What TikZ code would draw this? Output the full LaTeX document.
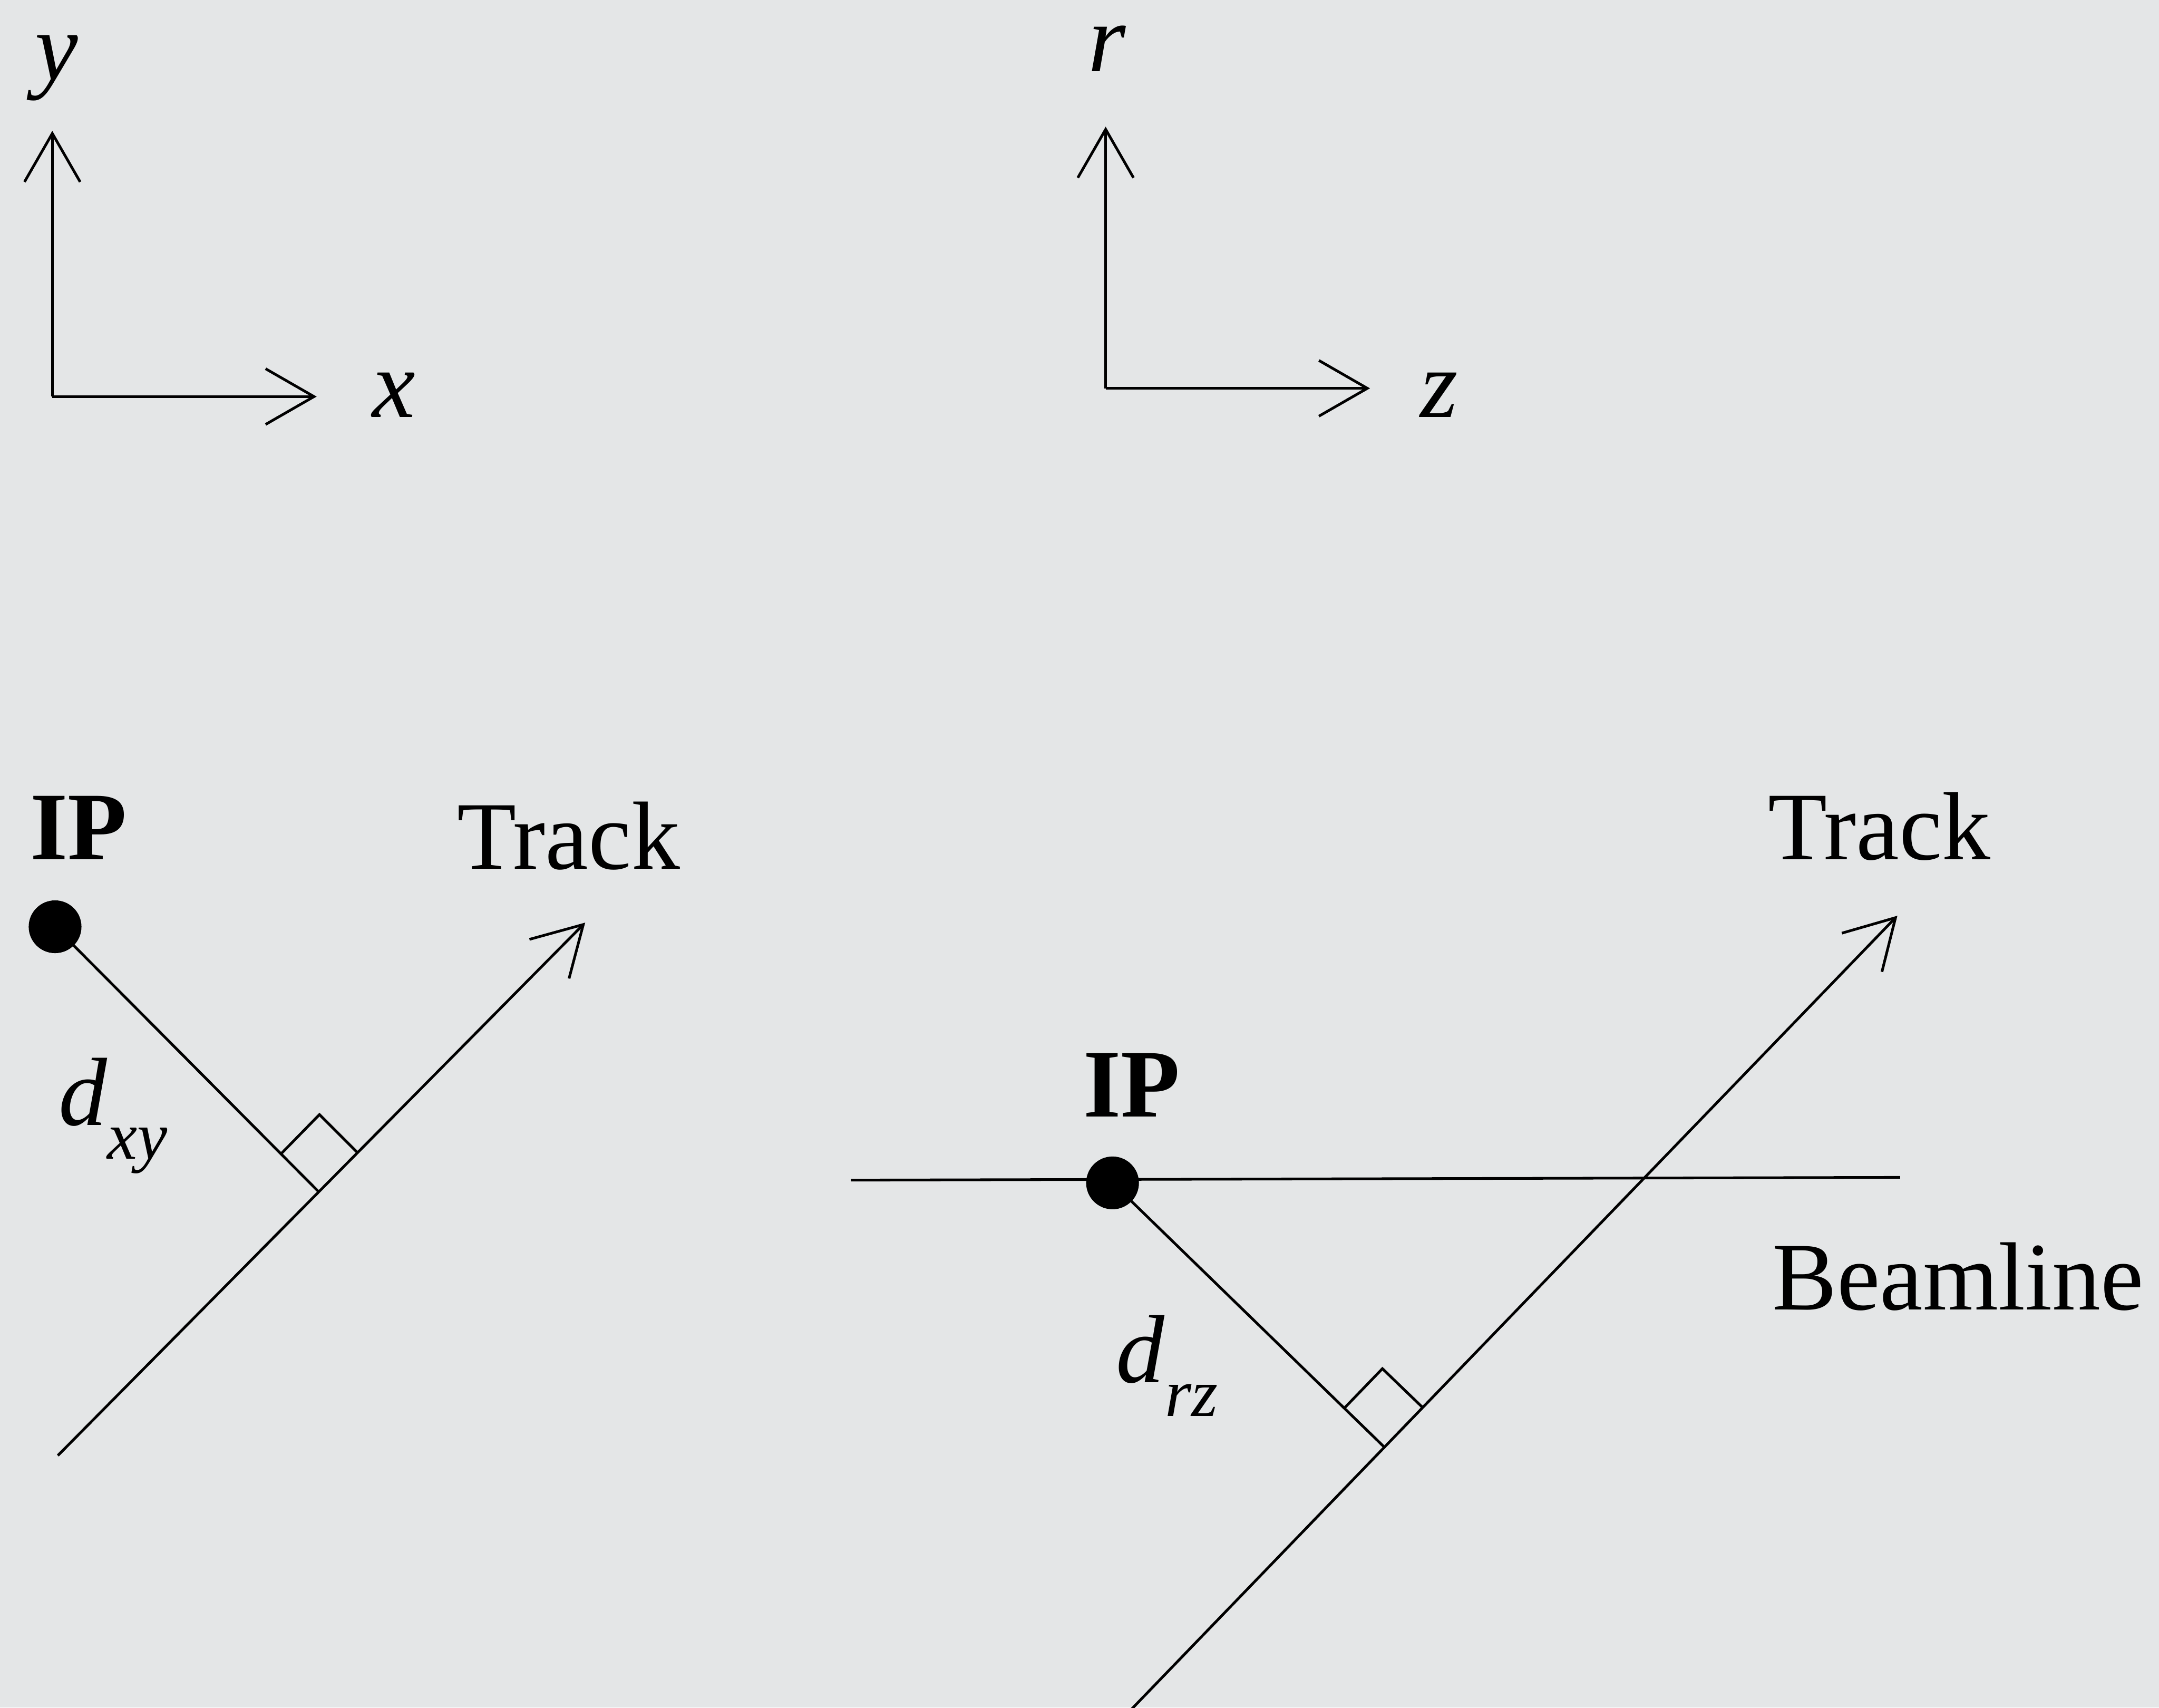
\documentclass[tikz,border=0pt]{standalone}
\usepackage{fontspec}
\setmainfont{Liberation Serif}
\usetikzlibrary{arrows.meta}
\definecolor{bg}{RGB}{228,230,231}
\begin{document}
\begin{tikzpicture}[x=0.01cm,y=-0.01cm,
  ln/.style={line width=0.55pt, black},
  arr/.style={ln, -{Straight Barb[length=10pt,width=11.5pt]}},
  lbl/.style={inner sep=0pt, anchor=base, font=\fontsize{20}{24}\selectfont},
  dotst/.style={circle, fill=black, inner sep=0pt, minimum size=10.9pt}
]
\fill[bg] (0,0) rectangle (1568,1240);
\useasboundingbox (0,0) rectangle (1568,1240);

% --- xy axes
\coordinate (oxy) at (38,288);
\coordinate (ytip) at (38,95);
\coordinate (xtip) at (230,288);
\draw[arr] (oxy) -- (ytip);
\draw[arr] (oxy) -- (xtip);
\node[lbl] (ylab) at (41,58) {\textit{y}};
\node[lbl] (xlab) at (286,303) {\textit{x}};

% --- rz axes
\coordinate (orz) at (803,282);
\coordinate (rtip) at (803,92);
\coordinate (ztip) at (995,282);
\draw[arr] (orz) -- (rtip);
\draw[arr] (orz) -- (ztip);
\node[lbl] (rlab) at (804,52) {\textit{r}};
\node[lbl] (zlab) at (1045,303) {\textit{z}};

% --- xy view
\node[dotst] (ipL) at (40,673) {};
\node[lbl] (ipLlab) at (57,624) {\textbf{IP}};
\coordinate (tL0) at (42,1057);
\coordinate (tL1) at (425,670);
\coordinate (fL) at (232,866);
\draw[arr] (tL0) -- (tL1);
\node[lbl] (trL) at (413,631) {Track};
\draw[ln] (ipL.center) -- (fL);
\draw[ln] (204,838) -- (232,809.4) -- (260.3,837.7);
\node[lbl, anchor=base west] (dxy) at (42,817) {\textit{d}\raisebox{-7pt}{\fontsize{14}{14}\selectfont\textit{xy}}};

% --- rz view
\coordinate (bl0) at (618,857);
\coordinate (bl1) at (1380,855);
\draw[ln] (bl0) -- (bl1);
\node[dotst, minimum width=10.7pt, minimum height=10.9pt] (ipR) at (808,859) {};
\node[lbl] (ipRlab) at (822,811) {\textbf{IP}};
\coordinate (tR0) at (821,1242);
\coordinate (tR1) at (1378,665);
\coordinate (fR) at (1005,1050.5);
\draw[arr] (tR0) -- (tR1);
\node[lbl] (trR) at (1365,624) {Track};
\draw[ln] (ipR.center) -- (fR);
\draw[ln] (976.2,1022.7) -- (1004,993.9) -- (1032.8,1021.7);
\node[lbl] (beam) at (1422,951) {Beamline};
\node[lbl, anchor=base west] (drz) at (810,1004) {\textit{d}\raisebox{-7pt}{\fontsize{14}{14}\selectfont\textit{rz}}};
\end{tikzpicture}
\end{document}
